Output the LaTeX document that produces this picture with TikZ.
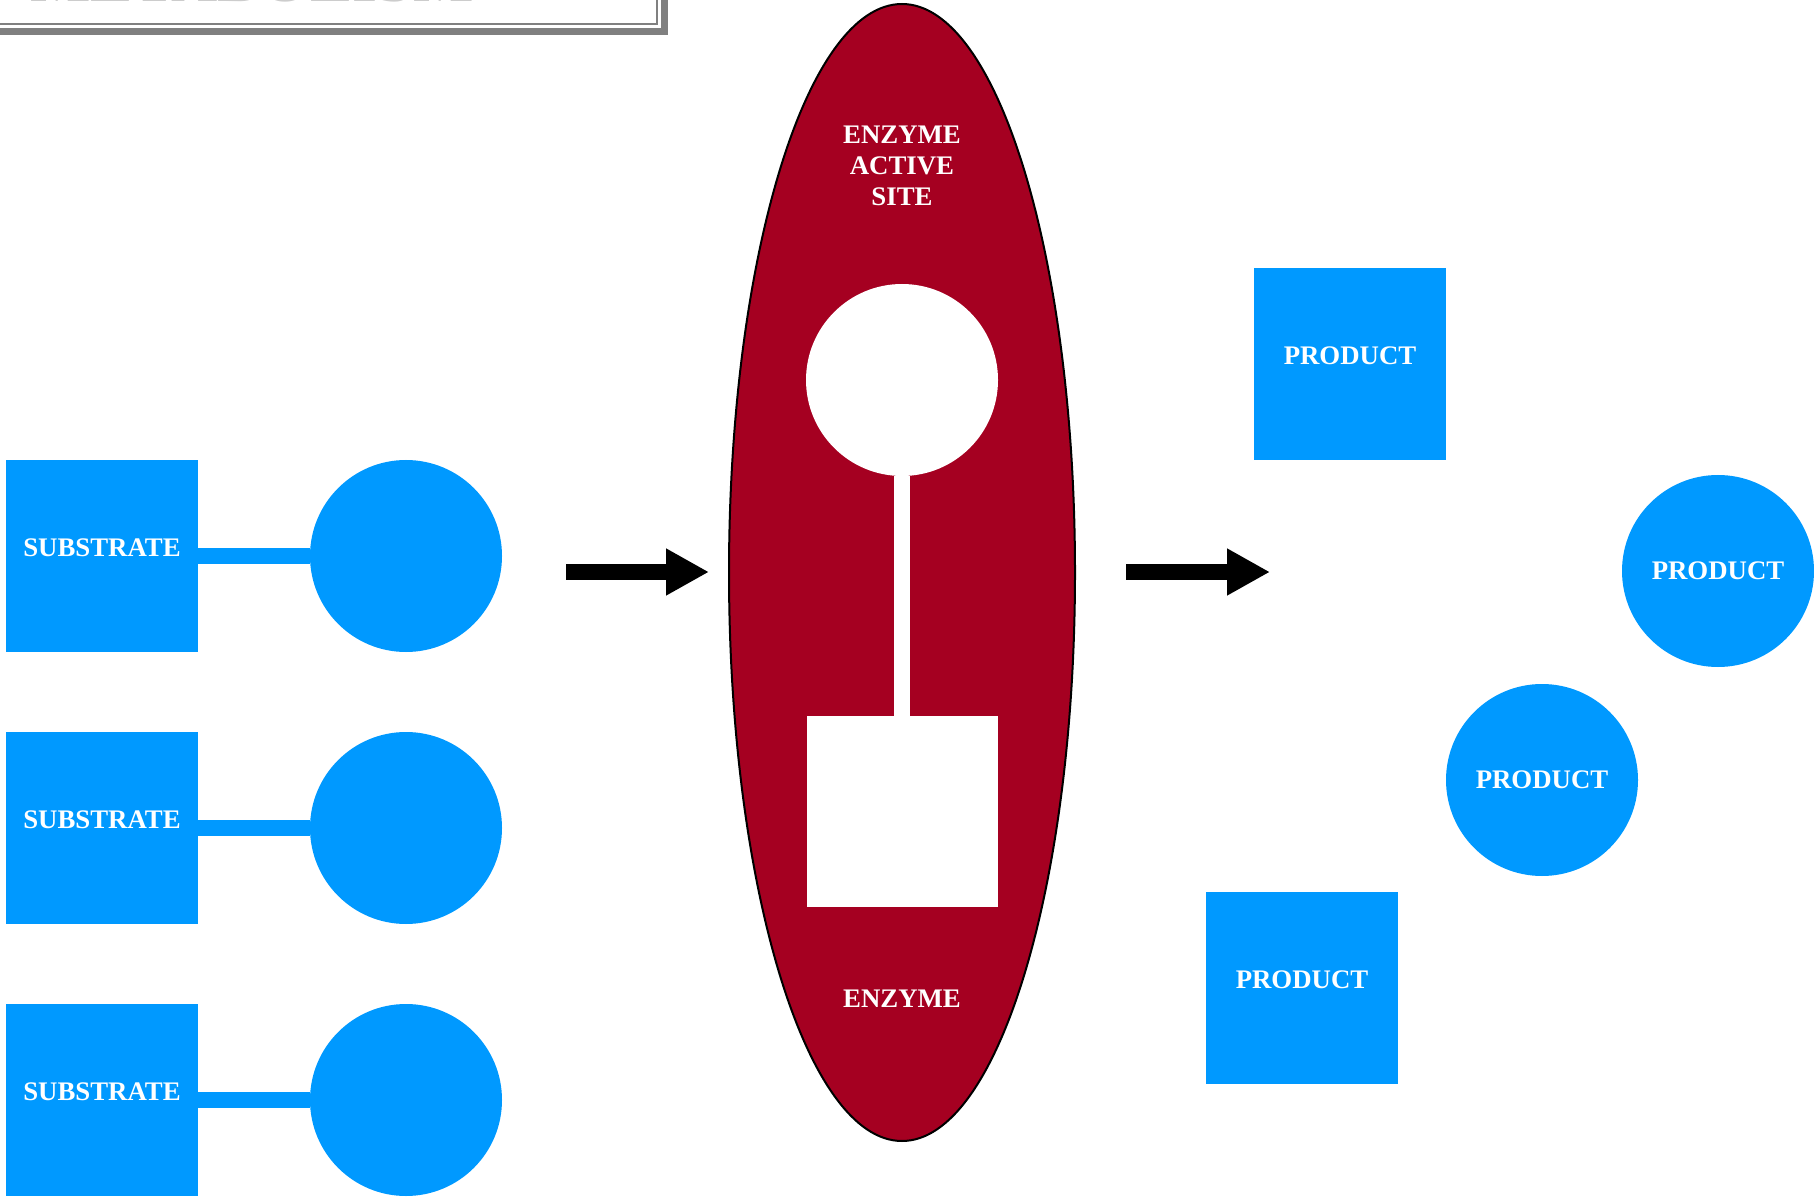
\documentclass[tikz,border=0pt]{standalone}
\usepackage{fontspec}
\setmainfont{Liberation Serif}
\usetikzlibrary{shapes.geometric,arrows.meta}
\definecolor{myblue}{RGB}{0,153,255}
\definecolor{enzred}{RGB}{165,0,33}
\definecolor{framegray}{RGB}{128,128,128}
\tikzset{
  lblfont/.style={font=\bfseries\fontsize{13.4}{15.5}\selectfont, text=white},
  sqbox/.style={rectangle, fill=myblue, minimum size=96pt, inner sep=0pt, lblfont, text depth=8pt},
  circbox/.style={circle, fill=myblue, minimum size=96pt, inner sep=0pt, lblfont},
  link/.style={draw=myblue, line width=8pt},
  stem/.style={draw=white, line width=8pt},
  bigarrow/.style={draw=black, line width=8pt, -{Triangle[length=21.5pt,width=22pt]}},
  lbl/.style={lblfont, inner sep=0pt, align=center},
}
\begin{document}
\begin{tikzpicture}[x=0.5pt,y=-0.5pt]
\useasboundingbox (0,0) rectangle (1814,1197);
% title frame (cut off at top)
\fill[framegray] (-20,-200) rectangle (668,35);
\fill[white] (-20,-200) rectangle (661,28);
\draw[framegray, line width=1.2pt] (-20,24) -- (657,24) -- (657,-200);
\node[anchor=base, inner sep=0pt, text=gray!40, font=\bfseries\fontsize{32}{36}\selectfont] (title) at (252,2) {METABOLISM};
% substrates
\foreach \i/\y in {1/556,2/828,3/1100}{
  \node[sqbox] (s\i) at (102,\y) {SUBSTRATE};
  \node[circbox] (c\i) at (406,\y) {};
  \draw[link] (s\i) -- (c\i);
}
% arrows
\coordinate (a1s) at (566,572);
\coordinate (a1e) at (709,572);
\coordinate (a2s) at (1126,572);
\coordinate (a2e) at (1270,572);
\draw[bigarrow] (a1s) -- (a1e);
\draw[bigarrow] (a2s) -- (a2e);
% enzyme
\node[ellipse, draw=black, line width=1pt, fill=enzred, minimum width=173pt, minimum height=568.5pt, inner sep=0pt] (enz) at (902,572.5) {};
\node[circle, fill=white, minimum size=96pt, inner sep=0pt] (site) at (902,380) {};
\node[rectangle, fill=white, minimum size=95.5pt, inner sep=0pt] (pocket) at (902,811.5) {};
\draw[stem] (site) -- (pocket);
\node[lbl] (sitelbl) at (902,166) {ENZYME\\ACTIVE\\SITE};
\node[lbl] (enzlbl) at (902,999) {ENZYME};
% products
\node[sqbox] (p1) at (1350,364) {PRODUCT};
\node[circbox] (p2) at (1718,571) {PRODUCT};
\node[circbox] (p3) at (1542,780) {PRODUCT};
\node[sqbox] (p4) at (1302,988) {PRODUCT};
\end{tikzpicture}
\end{document}
